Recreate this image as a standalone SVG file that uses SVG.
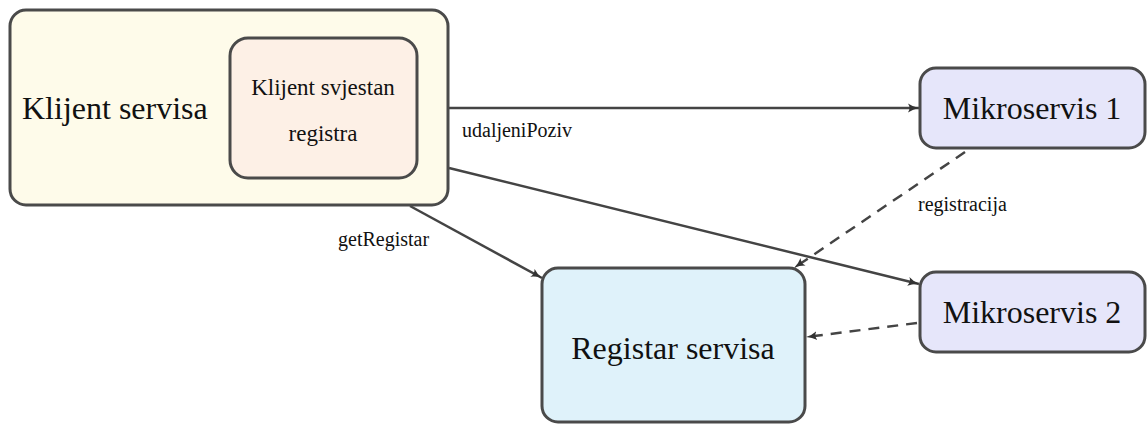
<svg xmlns="http://www.w3.org/2000/svg" width="1148" height="425" viewBox="0 0 1148 425">
<style>
.box{stroke:#4a4a4a;stroke-width:3}
text{font-family:'Liberation Serif','DejaVu Serif',serif;fill:#111}
.big{font-size:32px}
.mid{font-size:23px}
.lbl{font-size:20px}
.c{fill:none;stroke:#444;stroke-width:2.5}
.d{stroke-dasharray:11 8}
</style>
<defs>
<marker id="ah" viewBox="0 0 12 10" refX="11" refY="5" markerWidth="12" markerHeight="10" markerUnits="userSpaceOnUse" orient="auto">
<path d="M0,0.5 Q5,4 11,5 Q5,6 0,9.5 Q3,5 0,0.5 Z" fill="#333"/>
</marker>
</defs>
<rect width="1148" height="425" fill="#fff"/>
<g id="connectors">
<line class="c" x1="449" y1="108" x2="919" y2="108" marker-end="url(#ah)"/>
<line class="c" x1="449" y1="168" x2="919" y2="284" marker-end="url(#ah)"/>
<line class="c" x1="410" y1="206" x2="542" y2="278" marker-end="url(#ah)"/>
<line class="c d" x1="965" y1="152" x2="794" y2="268" marker-end="url(#ah)"/>
<line class="c d" x1="917" y1="323" x2="806" y2="337" marker-end="url(#ah)"/>
<text class="lbl" x="462" y="137">udaljeniPoziv</text>
<text class="lbl" x="338" y="246">getRegistar</text>
<text class="lbl" x="918" y="211">registracija</text>
</g>
<g id="klijent-servisa">
<rect class="box" x="10" y="10" width="438" height="195" rx="16" fill="#fefbea"/>
<text class="big" x="22" y="119">Klijent servisa</text>
</g>
<g id="klijent-svjestan-registra">
<rect class="box" x="230" y="38" width="187" height="140" rx="18" fill="#fdf0e6"/>
<text class="mid" x="323" y="95" text-anchor="middle">Klijent svjestan</text>
<text class="mid" x="323" y="141" text-anchor="middle">registra</text>
</g>
<g id="mikroservis-1">
<rect class="box" x="920" y="68" width="225" height="80" rx="16" fill="#e6e6fa"/>
<text class="big" x="1032" y="119" text-anchor="middle">Mikroservis 1</text>
</g>
<g id="mikroservis-2">
<rect class="box" x="920" y="272" width="225" height="80" rx="16" fill="#e6e6fa"/>
<text class="big" x="1032" y="323" text-anchor="middle">Mikroservis 2</text>
</g>
<g id="registar-servisa">
<rect class="box" x="542" y="268" width="263" height="154" rx="16" fill="#dff2fa"/>
<text class="big" x="673" y="359" text-anchor="middle">Registar servisa</text>
</g>
</svg>
